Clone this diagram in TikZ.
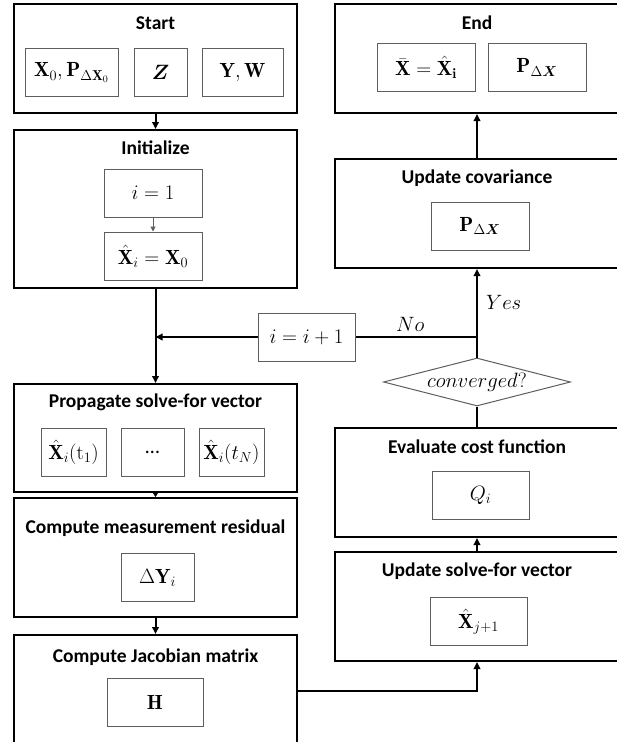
\documentclass[tikz,border=0pt]{standalone}
\usepackage{amsmath,amssymb,bm}
\usepackage{fontspec}
\newfontfamily\headfont{Carlito}
\usetikzlibrary{arrows.meta,positioning,shapes.geometric}
\definecolor{flowink}{HTML}{000000}
\definecolor{flowgrey}{HTML}{5E5E5E}

\begin{document}
\begin{tikzpicture}[x=1pt,y=-1pt,>={Triangle[length=7pt,width=6.5pt]},
  text=flowink,
  stage/.style={draw=flowink,line width=2pt,inner sep=0pt},
  head/.style={font=\headfont\fontsize{19.5}{23}\selectfont\bfseries,inner sep=0pt},
  cell/.style={draw=flowgrey,line width=1pt,minimum height=48,inner sep=1pt,
    font=\fontsize{20.5}{24}\selectfont},
  link/.style={draw=flowink,line width=2pt},
  tag/.style={font=\fontsize{20.5}{24}\selectfont,inner sep=2pt}]
\path[use as bounding box] (0,0) rectangle (617,742);
\fill[white] (0,0) rectangle (617,742);

% left column
\node[stage,minimum width=283,minimum height=109] (start) at (155.5,58.5) {};
\node[head] (startT) at (155.5,23) {Start};
\node[cell,minimum width=93] (xz) at (71.5,72.5) {$\mathbf{X}_0,\mathbf{P}_{\Delta\mathbf{X}_0}$};
\node[cell,minimum width=53] (zz) at (160.5,72.5) {$\boldsymbol{Z}$};
\node[cell,minimum width=81] (yw) at (242.5,72.5) {$\mathbf{Y},\mathbf{W}$};

\node[stage,minimum width=283,minimum height=158] (init) at (155.5,209) {};
\node[head] (initT) at (155.5,148) {Initialize};
\node[cell,minimum width=98] (ione) at (153,193) {$i=1$};
\node[cell,minimum width=98] (xhat) at (153,256) {$\hat{\mathbf{X}}_i=\mathbf{X}_0$};

\node[stage,minimum width=283,minimum height=108] (prop) at (155.5,438) {};
\node[head] (propT) at (155.5,402) {Propagate solve-for vector};
\node[cell,minimum width=65] (pone) at (73.5,452) {$\hat{\mathbf{X}}_i(\mathrm{t}_1)$};
\node[cell,minimum width=63] (pdots) at (152.5,452) {\headfont\dots};
\node[cell,minimum width=65] (pn) at (231.5,452) {$\hat{\mathbf{X}}_i(t_N)$};

\node[stage,minimum width=283,minimum height=119] (resid) at (155.5,557.5) {};
\node[head] (residT) at (155.5,528) {Compute measurement residual};
\node[cell,minimum width=73] (dy) at (157.5,577.5) {$\Delta\mathbf{Y}_i$};

\node[stage,minimum width=283,minimum height=111] (jacob) at (155.5,690.5) {};
\node[head] (jacobT) at (155.5,657) {Compute Jacobian matrix};
\node[cell,minimum width=96] (hh) at (155,702.5) {$\mathbf{H}$};

% right column
\node[stage,minimum width=284,minimum height=109] (endb) at (477,58.5) {};
\node[head] (endT) at (477,23) {End};
\node[cell,minimum width=98] (xbar) at (426,67.5) {$\bar{\mathbf{X}}=\hat{\mathbf{X}}_{\mathbf{i}}$};
\node[cell,minimum width=98] (pend) at (537,67.5) {$\mathbf{P}_{\Delta\boldsymbol{X}}$};

\node[stage,minimum width=284,minimum height=109] (upcov) at (477,213.5) {};
\node[head] (upcovT) at (477,178) {Update covariance};
\node[cell,minimum width=98] (pcov) at (480,226) {$\mathbf{P}_{\Delta\boldsymbol{X}}$};

\node[diamond,draw=flowgrey,line width=1pt,aspect=3.9,minimum width=187,
  minimum height=48,inner sep=0pt,font=\fontsize{20.5}{24}\selectfont]
  (conv) at (477,382) {$converged?$};

\node[stage,minimum width=284,minimum height=109] (evalc) at (477,482.5) {};
\node[head] (evalcT) at (477,447) {Evaluate cost function};
\node[cell,minimum width=97] (qq) at (480.5,495) {$Q_i$};

\node[stage,minimum width=284,minimum height=109] (upsol) at (477,606.5) {};
\node[head] (upsolT) at (477,571) {Update solve-for vector};
\node[cell,minimum width=97] (xnext) at (478.5,621.5) {$\hat{\mathbf{X}}_{j+1}$};

% loop back
\node[cell,minimum width=97] (incr) at (306.5,337) {$i=i+1$};
\coordinate (junc) at (conv.north |- incr.east);

% connectors
\draw[link,->] (start) -- (init);
\draw[->,flowgrey,line width=1pt,>={Triangle[length=5pt,width=5pt]}] (ione) -- (xhat);
\draw[link,->] (init) -- (prop);
\draw[link,->,>={Triangle[length=5pt,width=6pt]}] (prop) -- (resid);
\draw[link,->] (resid) -- (jacob);
\draw[link,->] (jacob.east) -| (upsol.south);
\draw[link,->] (upsol) -- (evalc);
\draw[link] (evalc) -- (conv);
\draw[link,->] (conv) -- (upcov)
  node[pos=.62,right=6pt,tag] {$Yes$};
\draw[link,->] (upcov) -- (endb);
\draw[link] (junc) -- (incr.east)
  node[pos=.55,above=3pt,tag] {$No$};
\draw[link,->] (incr.west) -- (init.south |- incr.west);
\end{tikzpicture}
\end{document}
